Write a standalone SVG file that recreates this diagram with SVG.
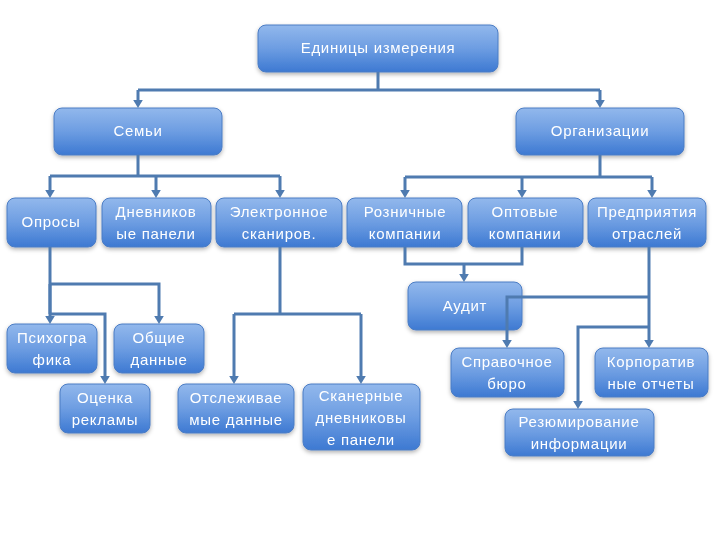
<svg xmlns="http://www.w3.org/2000/svg" width="720" height="540" viewBox="0 0 720 540">
<style>
.box{fill:url(#g);stroke:#4a7cc4;stroke-width:1}
.t{font-family:"Liberation Sans",Arial,sans-serif;font-size:15px;fill:#ffffff;text-anchor:middle;letter-spacing:0.7px}
.c{fill:none;stroke:#4f7bb0;stroke-width:3;marker-end:url(#a)}
.n{fill:none;stroke:#4f7bb0;stroke-width:3}
</style>
<defs>
<linearGradient id="g" x1="0" y1="0" x2="0" y2="1">
<stop offset="0" stop-color="#92b8ec"/>
<stop offset="0.5" stop-color="#6d9de2"/>
<stop offset="1" stop-color="#3d79d2"/>
</linearGradient>
<filter id="s" x="-10%" y="-10%" width="120%" height="130%">
<feDropShadow dx="0" dy="2" stdDeviation="2" flood-color="#000" flood-opacity="0.3"/>
</filter>
<marker id="a" markerWidth="2.6" markerHeight="3.2" refX="1.3" refY="1.6" orient="auto" markerUnits="strokeWidth" viewBox="0 0 2.6 3.2">
<path d="M0,0 L2.6,1.6 L0,3.2 Z" fill="#4f7bb0"/>
</marker>
</defs>
<rect width="720" height="540" fill="#ffffff"/>
<g id="n1" filter="url(#s)"><rect class="box" x="258" y="25" width="240" height="47" rx="8"/><text class="t" x="378" y="53">Единицы измерения</text></g>
<g id="n2" filter="url(#s)"><rect class="box" x="54" y="108" width="168" height="47" rx="8"/><text class="t" x="138" y="136">Семьи</text></g>
<g id="n3" filter="url(#s)"><rect class="box" x="516" y="108" width="168" height="47" rx="8"/><text class="t" x="600" y="136">Организации</text></g>
<g id="n4" filter="url(#s)"><rect class="box" x="7" y="198" width="89" height="49" rx="8"/><text class="t" x="51" y="227">Опросы</text></g>
<g id="n5" filter="url(#s)"><rect class="box" x="102" y="198" width="109" height="49" rx="8"/><text class="t" x="156" y="217">Дневников</text><text class="t" x="156" y="239">ые панели</text></g>
<g id="n6" filter="url(#s)"><rect class="box" x="216" y="198" width="126" height="49" rx="8"/><text class="t" x="279" y="217">Электронное</text><text class="t" x="279" y="239">сканиров.</text></g>
<g id="n7" filter="url(#s)"><rect class="box" x="347" y="198" width="115" height="49" rx="8"/><text class="t" x="405" y="217">Розничные</text><text class="t" x="405" y="239">компании</text></g>
<g id="n8" filter="url(#s)"><rect class="box" x="468" y="198" width="115" height="49" rx="8"/><text class="t" x="525" y="217">Оптовые</text><text class="t" x="525" y="239">компании</text></g>
<g id="n9" filter="url(#s)"><rect class="box" x="588" y="198" width="118" height="49" rx="8"/><text class="t" x="647" y="217">Предприятия</text><text class="t" x="647" y="239">отраслей</text></g>
<g id="n10" filter="url(#s)"><rect class="box" x="408" y="282" width="114" height="48" rx="8"/><text class="t" x="465" y="311">Аудит</text></g>
<g id="n11" filter="url(#s)"><rect class="box" x="7" y="324" width="90" height="49" rx="8"/><text class="t" x="52" y="343">Психогра</text><text class="t" x="52" y="365">фика</text></g>
<g id="n12" filter="url(#s)"><rect class="box" x="114" y="324" width="90" height="49" rx="8"/><text class="t" x="159" y="343">Общие</text><text class="t" x="159" y="365">данные</text></g>
<g id="n13" filter="url(#s)"><rect class="box" x="60" y="384" width="90" height="49" rx="8"/><text class="t" x="105" y="403">Оценка</text><text class="t" x="105" y="425">рекламы</text></g>
<g id="n14" filter="url(#s)"><rect class="box" x="178" y="384" width="116" height="49" rx="8"/><text class="t" x="236" y="403">Отслеживае</text><text class="t" x="236" y="425">мые данные</text></g>
<g id="n15" filter="url(#s)"><rect class="box" x="303" y="384" width="117" height="66" rx="8"/><text class="t" x="361" y="401">Сканерные</text><text class="t" x="361" y="423">дневниковы</text><text class="t" x="361" y="445">е панели</text></g>
<g id="n16" filter="url(#s)"><rect class="box" x="451" y="348" width="113" height="49" rx="8"/><text class="t" x="507" y="367">Справочное</text><text class="t" x="507" y="389">бюро</text></g>
<g id="n17" filter="url(#s)"><rect class="box" x="595" y="348" width="113" height="49" rx="8"/><text class="t" x="651" y="367">Корпоратив</text><text class="t" x="651" y="389">ные отчеты</text></g>
<g id="n18" filter="url(#s)"><rect class="box" x="505" y="409" width="149" height="47" rx="8"/><text class="t" x="579" y="427">Резюмирование</text><text class="t" x="579" y="449">информации</text></g>
<g id="connectors">
<path class="n" d="M378,72 V90 M138,90 H600"/>
<path class="c" d="M138,90 V104"/>
<path class="c" d="M600,90 V104"/>
<path class="n" d="M138,155 V176 M50,176 H280"/>
<path class="c" d="M50,176 V194"/>
<path class="c" d="M156,176 V194"/>
<path class="c" d="M280,176 V194"/>
<path class="n" d="M600,155 V177 M405,177 H652"/>
<path class="c" d="M405,177 V194"/>
<path class="c" d="M522,177 V194"/>
<path class="c" d="M652,177 V194"/>
<path class="n" d="M405,247 V264 H522 V247"/>
<path class="c" d="M464,264 V278"/>
<path class="n" d="M50,247 V314"/>
<path class="c" d="M50,284 V320"/>
<path class="c" d="M50,284 H159 V320"/>
<path class="c" d="M50,314 H105 V380"/>
<path class="n" d="M280,247 V314 M234,314 H361"/>
<path class="c" d="M234,314 V380"/>
<path class="c" d="M361,314 V380"/>
<path class="c" d="M649,247 V344"/>
<path class="c" d="M649,297 H507 V344"/>
<path class="c" d="M649,327 H578 V405"/>
</g>
</svg>
